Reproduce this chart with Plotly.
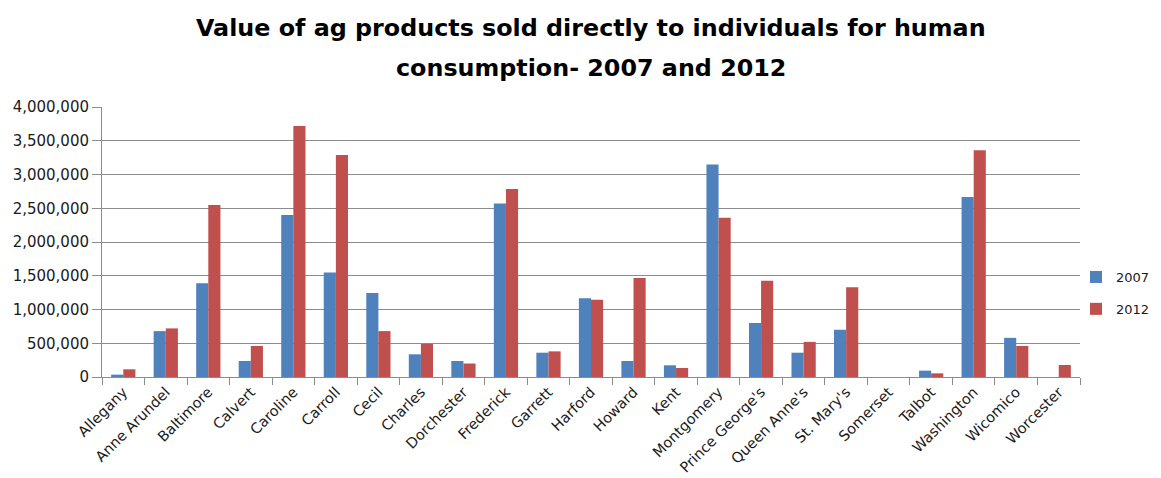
import plotly.graph_objects as go

counties = ["Allegany", "Anne Arundel", "Baltimore", "Calvert", "Caroline", "Carroll",
            "Cecil", "Charles", "Dorchester", "Frederick", "Garrett", "Harford", "Howard",
            "Kent", "Montgomery", "Prince George's", "Queen Anne's", "St. Mary's",
            "Somerset", "Talbot", "Washington", "Wicomico", "Worcester"]

values_2007 = [35000, 680000, 1390000, 237000, 2400000, 1550000,
               1245000, 336000, 237000, 2570000, 360000, 1165000, 237000,
               173000, 3150000, 800000, 360000, 700000,
               0, 94000, 2667000, 580000, 0]

values_2012 = [114000, 720000, 2550000, 460000, 3720000, 3290000,
               680000, 490000, 200000, 2785000, 380000, 1146000, 1467000,
               133000, 2360000, 1427000, 520000, 1330000,
               0, 54000, 3360000, 460000, 178000]

title_lines = ["Value of ag products sold directly to individuals for human",
               "consumption- 2007 and 2012"]

BLUE = "#4F81BD"
RED = "#C0504D"
GRID = "#8C8C8C"
FONT = "DejaVu Sans"
TXT = "#1a1a1a"

# page body has an 8px margin, so the figure is sized to fit the window
W, H = 1153, 470
L, T = 94, 99
PH = 270

fig = go.Figure()
fig.add_trace(go.Bar(x=counties, y=values_2007, name="2007", marker_color=BLUE,
                     marker_line_width=0, legendgroup="a"))
fig.add_trace(go.Bar(x=counties, y=values_2012, name="2012", marker_color=RED,
                     marker_line_width=0, legendgroup="b"))

fig.update_layout(
    width=W, height=H,
    margin=dict(l=L, r=81, t=T, b=H - T - PH, pad=0, autoexpand=False),
    paper_bgcolor="white", plot_bgcolor="white",
    barmode="group", bargap=0.43, bargroupgap=0,
    font=dict(family=FONT, size=14, color=TXT),
    showlegend=True,
    legend=dict(xref="container", yref="container", x=1068 / W, xanchor="left",
                y=1 - 285 / H, yanchor="middle",
                font=dict(family=FONT, size=13, color=TXT),
                tracegroupgap=12, bgcolor="rgba(0,0,0,0)"),
    xaxis=dict(tickangle=-45, showline=True, linecolor=GRID, linewidth=1,
               ticks="outside", tickson="boundaries", ticklen=7, tickcolor=GRID,
               showgrid=False, automargin=False,
               tickfont=dict(family=FONT, size=14.5, color=TXT)),
    yaxis=dict(range=[0, 4000000], dtick=500000, tickformat=",",
               showgrid=True, gridcolor=GRID, gridwidth=1,
               showline=True, linecolor=GRID, linewidth=1,
               ticks="outside", ticklen=9, tickcolor=GRID,
               zeroline=False, automargin=False,
               tickfont=dict(family=FONT, size=15, color=TXT)),
)

for i, line in enumerate(title_lines):
    fig.add_annotation(text="<b>" + line + "</b>", xref="paper", yref="paper",
                       x=0.5, y=1 + (T - (20 + 40 * i)) / PH, xanchor="center",
                       yanchor="middle", showarrow=False,
                       font=dict(family=FONT, size=23.8, color="black"))

fig.write_html("out.html")
